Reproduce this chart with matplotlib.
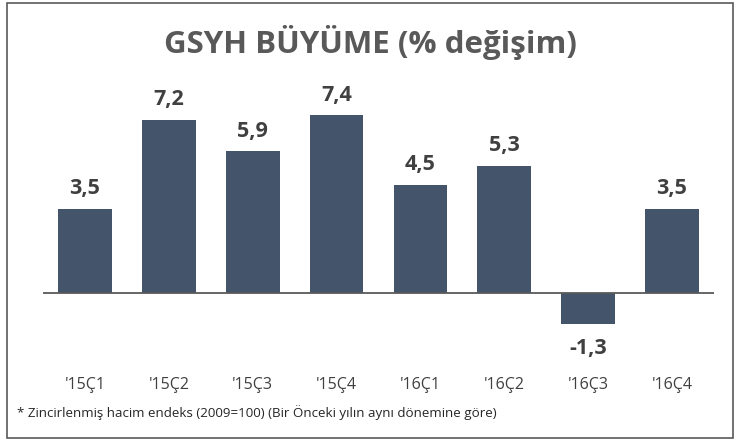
import matplotlib.pyplot as plt
from matplotlib.patches import Rectangle
from matplotlib.transforms import blended_transform_factory

# data
categories = ["'15Ç1", "'15Ç2", "'15Ç3", "'15Ç4", "'16Ç1", "'16Ç2", "'16Ç3", "'16Ç4"]
growth = [3.5, 7.2, 5.9, 7.4, 4.5, 5.3, -1.3, 3.5]
value_labels = ["3,5", "7,2", "5,9", "7,4", "4,5", "5,3", "-1,3", "3,5"]

title = "GSYH BÜYÜME (% değişim)"
footnote = "* Zincirlenmiş hacim endeks (2009=100) (Bir Önceki yılın aynı dönemine göre)"

W, H = 737, 441
plt.rcParams['font.family'] = ['Open Sans', 'DejaVu Sans']

fig = plt.figure(figsize=(W / 100, H / 100), dpi=100)
fig.patch.set_facecolor('white')

# outer frame
fig.patches.append(Rectangle((7 / W, 3 / H), (733 - 7) / W, (438 - 3) / H,
                             transform=fig.transFigure, fill=False,
                             edgecolor='#595959', linewidth=1.2))

zero_px, top_px, bot_px = 293, 100, 330
px_per_unit = 24.0
ax = fig.add_axes([43 / W, 1 - bot_px / H, (714 - 43) / W, (bot_px - top_px) / H])
ax.set_ylim(-(bot_px - zero_px) / px_per_unit, (zero_px - top_px) / px_per_unit)
ax.set_xlim(-0.5, len(categories) - 0.5)

x = list(range(len(categories)))
ax.bar(x, growth, width=0.64, color='#44546a', zorder=2)
ax.axhline(0, color='#595959', linewidth=1.3, zorder=3)

for xi, v, lab in zip(x, growth, value_labels):
    off = 7 if v >= 0 else -10
    ax.annotate(lab, (xi, v), xytext=(0, off), textcoords='offset points',
                ha='center', va='bottom' if v >= 0 else 'top',
                fontsize=15.5, fontweight='bold', color='#404040')

for spine in ax.spines.values():
    spine.set_visible(False)
ax.set_xticks([])
ax.set_yticks([])
ax.patch.set_alpha(0)

tick_tr = blended_transform_factory(ax.transData, fig.transFigure)
tick_y = 1 - 385 / H
for xi, cat in zip(x, categories):
    ax.text(xi, tick_y, cat, transform=tick_tr,
            ha='center', va='center', fontsize=11.5, color='#404040')

fig.text(0.503, 1 - 43 / H, title, ha='center', va='center',
         fontsize=22.5, fontweight='bold', color='#595959')
fig.text(17 / W, 1 - 413 / H, footnote, ha='left', va='center',
         fontsize=9.6, color='#262626')

fig.savefig('out.png', dpi=100)
